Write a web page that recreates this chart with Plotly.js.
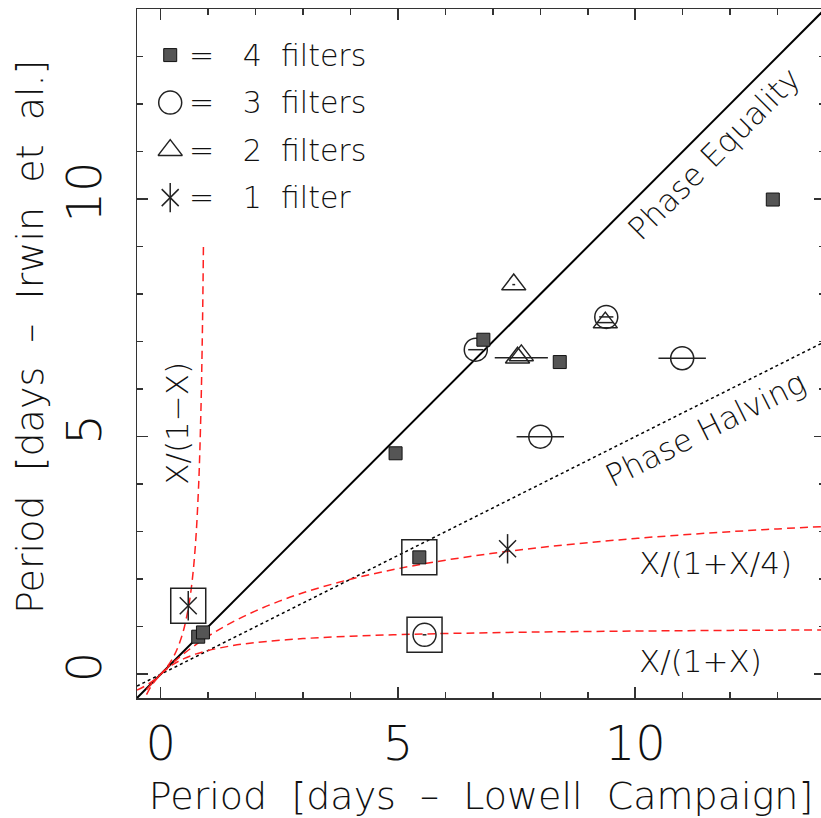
<!DOCTYPE html>
<html>
<head>
<meta charset="utf-8">
<script src="https://cdn.plot.ly/plotly-3.0.1.min.js"></script>
<style>
html,body{margin:0;padding:0;overflow:hidden;background:#fff;}
#chart{width:826px;height:818px;}
</style>
</head>
<body>
<div id="chart"></div>
<script>
// ---------- data ----------
// 4 filters
const p4x = [12.90, 6.80, 8.41, 4.95, 5.45, 0.79, 0.89];
const p4y = [9.99, 7.04, 6.57, 4.65, 2.46, 0.79, 0.88];
// 3 filters
const p3x = [9.39, 6.64, 10.99, 8.00, 5.56];
const p3y = [7.52, 6.83, 6.65, 5.00, 0.83];
const p3err = [0.15, 0.16, 0.50, 0.50, 0.04];
// 2 filters
const p2x = [7.44, 7.52, 7.60, 9.37];
const p2y = [8.20, 6.66, 6.71, 7.40];
const p2errPlus = [0.03, 0.64, 0.0, 0.17];
const p2errMinus = [0.03, 0.48, 0.0, 0.17];
// 1 filter
const p1x = [7.31, 0.58];
const p1y = [2.64, 1.44];
// highlighted (boxed) points
const boxX = [5.45, 5.56, 0.58];
const boxY = [2.46, 0.83, 1.44];

// reference lines
const eqX = [-0.5, 14];
const eqY = [-0.5, 14];
const halfX = [-0.5, 14];
const halfY = [-0.25, 7];
// X/(1+X/4)
const q4X = [-0.3, 0, 0.25, 0.5, 1, 1.5, 2, 2.5, 3, 4, 5, 6, 7, 8, 9, 10, 11, 12, 13, 14];
const q4Y = [-0.324, 0, 0.235, 0.444, 0.8, 1.091, 1.333, 1.538, 1.714, 2.0, 2.222, 2.4, 2.545, 2.667, 2.769, 2.857, 2.933, 3.0, 3.059, 3.111];
// X/(1+X)
const q1X = [-0.3, -0.2, -0.1, 0, 0.25, 0.5, 0.75, 1, 1.5, 2, 3, 4, 5, 6, 8, 10, 12, 14];
const q1Y = [-0.429, -0.25, -0.111, 0, 0.2, 0.333, 0.429, 0.5, 0.6, 0.667, 0.75, 0.8, 0.833, 0.857, 0.889, 0.909, 0.923, 0.933];
// X/(1-X)
const qmX = [-0.5, -0.25, 0, 0.2, 0.3, 0.4, 0.5, 0.6, 0.65, 0.7, 0.75, 0.8, 0.82, 0.85, 0.87, 0.88, 0.89, 0.9];
const qmY = [-0.333, -0.2, 0, 0.25, 0.429, 0.667, 1.0, 1.5, 1.857, 2.333, 3.0, 4.0, 4.556, 5.667, 6.692, 7.333, 8.091, 9.0];

const NB = '\u00a0';
const legendLabels = ['=' + NB.repeat(3) + '4' + NB.repeat(2) + 'filters', '=' + NB.repeat(3) + '3' + NB.repeat(2) + 'filters',
                      '=' + NB.repeat(3) + '2' + NB.repeat(2) + 'filters', '=' + NB.repeat(3) + '1' + NB.repeat(2) + 'filter'];
const xTitle = 'Period' + NB + NB + '[days' + NB + NB + '–' + NB + NB + 'Lowell' + NB + NB + 'Campaign]';
const yTitle = 'Period' + NB + NB + '[days' + NB + NB + '–' + NB + NB + 'Irwin' + NB + NB + 'et' + NB + NB + 'al.]';

// ---------- styling ----------
const FONT = 'DejaVu Sans';
const FW = 200;
const INK = '#222';
const squareStyle = {symbol: 'square', size: 13, color: '#555', line: {color: '#111', width: 1}};
const circleStyle = {symbol: 'circle-open', size: 23, color: INK, line: {color: INK, width: 1.5}};
const triStyle = {symbol: 'triangle-up-open', size: 21, color: INK, line: {color: INK, width: 1.5}};
const astA = {symbol: 'x-thin-open', size: 17, color: INK, line: {color: INK, width: 1.5}};
const astB = {symbol: 'line-ns-open', size: 21, color: INK, line: {color: INK, width: 1.5}};
const redDash = {color: '#ff2020', width: 1.5, dash: '8px,5px'};

// legend glyph layout (rows in data units)
const legX = 0.2, legTop = 13.03, legStep = 1.0, legTextX = 0.56;
const legRow = i => legTop - i * legStep;

const traces = [
  {x: eqX, y: eqY, mode: 'lines', line: {color: '#000', width: 2}, hoverinfo: 'skip'},
  {x: halfX, y: halfY, mode: 'lines', line: {color: '#000', width: 1.5, dash: 'dot'}, hoverinfo: 'skip'},
  {x: q4X, y: q4Y, mode: 'lines', line: Object.assign({shape: 'spline'}, redDash)},
  {x: q1X, y: q1Y, mode: 'lines', line: Object.assign({shape: 'spline'}, redDash)},
  {x: qmX, y: qmY, mode: 'lines', line: Object.assign({shape: 'spline'}, redDash)},
  {x: boxX, y: boxY, mode: 'markers', marker: {symbol: 'square-open', size: 35, color: INK, line: {color: INK, width: 1.5}}},
  {x: p3x, y: p3y, mode: 'markers', marker: circleStyle,
   error_x: {type: 'data', array: p3err, visible: true, color: INK, thickness: 1.5, width: 0}},
  {x: p2x, y: p2y, mode: 'markers', marker: triStyle,
   error_x: {type: 'data', symmetric: false, array: p2errPlus, arrayminus: p2errMinus, visible: true, color: INK, thickness: 1.5, width: 0}},
  {x: p4x, y: p4y, mode: 'markers', marker: squareStyle},
  {x: p1x, y: p1y, mode: 'markers', marker: astA},
  {x: p1x, y: p1y, mode: 'markers', marker: astB},
  // legend glyphs
  {x: [legX], y: [legRow(0)], mode: 'markers', marker: squareStyle},
  {x: [legX], y: [legRow(1)], mode: 'markers', marker: circleStyle},
  {x: [legX], y: [legRow(2)], mode: 'markers', marker: triStyle},
  {x: [legX], y: [legRow(3)], mode: 'markers', marker: astA},
  {x: [legX], y: [legRow(3)], mode: 'markers', marker: astB}
];

const annFont = {family: FONT, size: 30, color: '#111', weight: FW};
const formulaFont = {family: FONT, size: 31, color: '#111', weight: FW};
const annotations = legendLabels.map((t, i) => ({
  x: legTextX, y: legRow(i), xref: 'x', yref: 'y', text: t, showarrow: false,
  xanchor: 'left', yanchor: 'middle', font: annFont
})).concat([
  {x: 11.65, y: 10.95, xref: 'x', yref: 'y', text: 'Phase' + NB + 'Equality', textangle: -45, showarrow: false, font: {family: FONT, size: 31, color: '#111', weight: FW}},
  {x: 11.48, y: 5.16, xref: 'x', yref: 'y', text: 'Phase' + NB + 'Halving', textangle: -26.6, showarrow: false, font: {family: FONT, size: 31, color: '#111', weight: FW}},
  {x: 10.04, y: 2.34, xref: 'x', yref: 'y', text: 'X/(1+X/4)', xanchor: 'left', showarrow: false, font: formulaFont},
  {x: 10.04, y: 0.27, xref: 'x', yref: 'y', text: 'X/(1+X)', xanchor: 'left', showarrow: false, font: formulaFont},
  {x: 0.34, y: 5.29, xref: 'x', yref: 'y', text: 'X/(1−X)', textangle: -90, showarrow: false, font: formulaFont},
  // y-axis title (placed as annotation for exact vertical position)
  {x: -0.1555, y: 0.524, xref: 'paper', yref: 'paper', text: yTitle, textangle: -90, showarrow: false,
   xanchor: 'center', yanchor: 'middle', font: {family: FONT, size: 38, color: '#111', weight: FW}}
]);

const axisCommon = {
  range: [-0.5, 14], tick0: 0, dtick: 5, ticks: 'inside', ticklen: 11, tickwidth: 1.5, tickcolor: '#333',
  minor: {dtick: 1, ticks: 'inside', ticklen: 6, tickwidth: 1.5, tickcolor: '#333'},
  showline: true, linecolor: '#333', linewidth: 1.5, mirror: 'ticks',
  showgrid: false, zeroline: false, automargin: false,
  tickfont: {family: FONT, size: 48, color: '#111', weight: FW}
};

const layout = {
  width: 826, height: 818,
  margin: {l: 137, r: 1, t: 9, b: 120},
  paper_bgcolor: '#fff', plot_bgcolor: '#fff',
  showlegend: false,
  xaxis: Object.assign({}, axisCommon, {
    ticklabelstandoff: 3,
    title: {text: xTitle, font: {family: FONT, size: 38, color: '#111', weight: FW}, standoff: 20}
  }),
  yaxis: Object.assign({}, axisCommon, {
    tickangle: -90, ticklabelstandoff: 15
  }),
  annotations: annotations
};

Plotly.newPlot('chart', traces, layout, {displayModeBar: false, staticPlot: true});
</script>
</body>
</html>
